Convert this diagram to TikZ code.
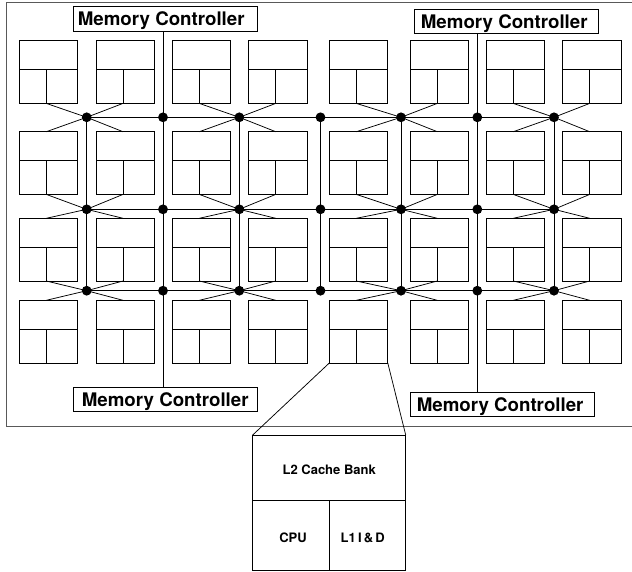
\documentclass[tikz,border=0pt]{standalone}
\usepackage{fontspec}
\setmainfont{TeX Gyre Heros}
\begin{document}
\begin{tikzpicture}[x=1pt,y=-1pt,
  ln/.style={line width=0.85pt,black},
  tile/.style={draw,ln,rectangle,minimum width=58.5pt,minimum height=62.7pt,inner sep=0pt,outer sep=0pt,anchor=north west},
  dot/.style={circle,fill=black,inner sep=0pt,minimum size=9.8pt},
  mcbox/.style={draw,ln,rectangle,inner sep=0pt,outer sep=0pt,anchor=north west},
  mctext/.style={inner sep=0pt,anchor=west,font=\bfseries\fontsize{18.7}{20}\selectfont,text height=13.4pt,text depth=0pt},
  small/.style={inner sep=0pt,font=\bfseries\fontsize{13}{15}\selectfont,text height=9.3pt,text depth=0pt},
  bigbox/.style={draw,ln,rectangle,inner sep=0pt,outer sep=0pt,anchor=north west,minimum width=153pt,minimum height=135pt}]
\useasboundingbox (0,0) rectangle (632,571);
% chip outline
\draw[line width=1pt,black!65] (6.3,2.3) rectangle (634,426.7);
% tiles
\foreach \x [count=\c] in {19.3,96,172.3,248.7,329.3,410.3,486.3,562.7}{
  \foreach \y [count=\r] in {40.7,131.7,218.3,300.3}{
    \node[tile] (t\r\c) at (\x,\y) {};
    \coordinate (t\r\c-td) at ([xshift=27pt]t\r\c.north west);
    \coordinate (t\r\c-bd) at ([xshift=27pt]t\r\c.south west);
    \coordinate (t\r\c-ml) at ([yshift=-28.8pt]t\r\c.north west);
    \coordinate (t\r\c-mr) at ([yshift=-28.8pt]t\r\c.north east);
    \draw[ln] (t\r\c-ml) -- (t\r\c-mr);
    \draw[ln] (t\r\c-ml -| t\r\c-td) -- (t\r\c-bd);
  }
}
% memory controllers
\node[mcbox,minimum width=183.6pt,minimum height=25pt] (mc1) at (73.7,6.3) {};
\node[mcbox,minimum width=184pt,minimum height=24pt] (mc2) at (414.7,9.3) {};
\node[mcbox,minimum width=184pt,minimum height=24pt] (mc3) at (73.7,387.7) {};
\node[mcbox,minimum width=184.4pt,minimum height=24pt] (mc4) at (410.3,392.7) {};
\node[mctext] (mt1) at ([xshift=4pt]mc1.west) {Memory Controller};
\node[mctext] (mt2) at ([xshift=6pt]mc2.west) {Memory Controller};
\node[mctext] (mt3) at ([xshift=8pt]mc3.west) {Memory Controller};
\node[mctext] (mt4) at ([xshift=6.3pt]mc4.west) {Memory Controller};
% router dots
\foreach \x [count=\i] in {86.7,163,239.3,320.5,401,477.3,554}{
  \foreach \y [count=\j] in {117.3,209.3,290.7}{
    \node[dot] (d\j\i) at (\x,\y) {};
  }
}
% horizontal links
\foreach \j in {1,2,3}{
  \draw[ln] (d\j1.center) -- (d\j7.center);
}
% vertical links
\foreach \i in {1,3,4,5,7}{
  \draw[ln] (d1\i.center) -- (d3\i.center);
}
\draw[ln] (d12 |- mc1.south) -- (d12 |- mc3.north);
\draw[ln] (d16 |- mc2.south) -- (d16 |- mc4.north);
% tile-to-router diagonals
\foreach \i in {1,3,5,7}{
  \pgfmathtruncatemacro\k{\i+1}
  \foreach \j in {1,2,3}{
    \pgfmathtruncatemacro\jj{\j+1}
    \draw[line width=0.75pt] (t\j\i-bd) -- (d\j\i.center) -- (t\jj\k-td);
    \draw[line width=0.75pt] (t\j\k-bd) -- (d\j\i.center) -- (t\jj\i-td);
  }
}
% enlarged tile
\node[bigbox] (big) at (252.7,435) {};
\coordinate (bml) at (252.7,500);
\coordinate (bmr) at (405.7,500);
\coordinate (bdv) at (329.3,500);
\draw[ln] (bml) -- (bmr);
\draw[ln] (bdv) -- (bdv |- big.south);
\draw[line width=0.75pt] (t45.south west) -- (big.north west);
\draw[line width=0.75pt] (t45.south east) -- (big.north east);
\node[small] (l2) at (329.2,469.5) {L2 Cache Bank};
\node[small] (cpu) at (293,538) {CPU};
\node[small] (l1) at (362.8,538) {\spaceskip=2.2pt L1 I \& D};
\end{tikzpicture}
\end{document}
